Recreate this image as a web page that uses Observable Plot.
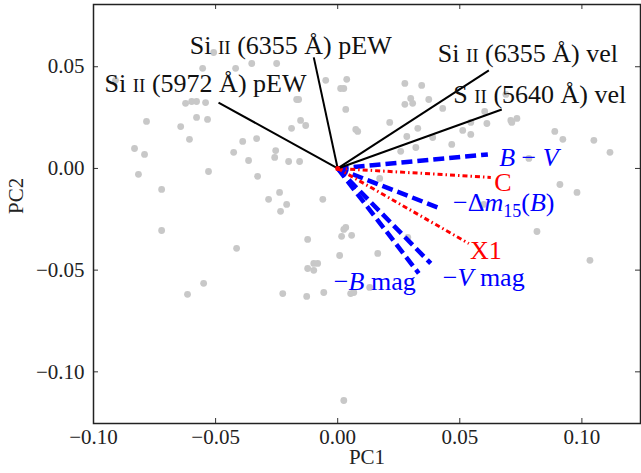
<!DOCTYPE html>
<html><head><meta charset="utf-8">
<script src="https://cdn.jsdelivr.net/npm/d3@7"></script>
<script src="https://cdn.jsdelivr.net/npm/@observablehq/plot@0.6"></script>
<style>body{margin:0;background:#fff} svg{display:block}</style>
</head><body><div id="chart"></div>
<script>
// Scores (gray points)
const pc1 = [-0.0508,-0.0553,-0.0418,-0.0352,-0.0250,-0.0910,-0.0623,-0.0598,-0.0578,-0.0541,-0.0783,-0.0643,-0.0578,-0.0533,-0.0607,-0.0832,-0.0791,-0.0389,-0.0332,-0.0426,-0.0365,-0.0254,-0.0258,-0.0816,-0.0529,-0.0328,-0.0721,-0.0283,-0.0238,-0.0209,-0.0234,-0.0721,-0.0414,-0.0549,-0.0615,
-0.0049,0.0012,0.0025,0.0037,-0.0168,-0.0160,0.0033,-0.0152,-0.0131,-0.0189,0.0074,0.0082,-0.0201,-0.0156,0.0172,-0.0061,0.0275,0.0344,0.0275,0.0299,0.0307,0.0373,0.0430,0.0213,0.0328,0.0389,0.0283,0.0258,0.0320,0.0467,
0.0689,0.0602,0.0611,0.0545,0.0512,0.0545,0.0709,0.0734,0.0713,0.0889,0.0922,0.1049,0.1115,0.0783,0.0910,0.0980,0.0598,0.0816,0.1033,
-0.0123,0.0025,0.0033,0.0016,0.0057,0.0008,0.0164,0.0287,-0.0123,-0.0098,-0.0098,-0.0082,-0.0225,-0.0127,-0.0057,0.0053,0.0066,0.0131,0.0025];
const pc2 = [0.0570,0.0492,0.0492,0.0516,0.0516,0.0433,0.0320,0.0329,0.0329,0.0324,0.0231,0.0206,0.0251,0.0241,0.0143,0.0098,0.0069,0.0133,0.0147,0.0079,0.0039,0.0088,0.0054,-0.0029,-0.0015,-0.0039,-0.0103,-0.0152,-0.0118,-0.0177,-0.0211,-0.0305,-0.0393,-0.0565,-0.0619,
0.0433,0.0393,0.0393,0.0438,0.0339,0.0339,0.0290,0.0236,0.0211,0.0197,0.0192,0.0182,0.0034,0.0034,-0.0049,-0.0152,0.0418,0.0408,0.0315,0.0344,0.0320,0.0339,0.0295,0.0226,0.0197,0.0152,0.0157,0.0084,0.0103,0.0118,
0.0364,0.0280,0.0221,0.0226,0.0187,0.0167,0.0236,0.0246,0.0226,0.0182,0.0143,0.0138,0.0079,0.0049,-0.0079,-0.0118,-0.0177,-0.0310,-0.0452,
-0.0349,-0.0300,-0.0290,-0.0334,-0.0329,-0.0428,-0.0418,-0.0339,-0.0492,-0.0501,-0.0467,-0.0467,-0.0615,-0.0629,-0.0610,-0.0615,-0.0610,-0.0585,-0.1141];

// Loadings (vectors)
const vecNames = ["Si II (6355 Å) pEW","Si II (5972 Å) pEW","Si II (6355 Å) vel","S II (5640 Å) vel","B − V","C","−Δm15(B)","X1","−V mag","−B mag"];
const vecX = [-0.0098,-0.0488,0.0619,0.0672,0.0615,0.0627,0.0410,0.0537,0.0381,0.0332];
const vecY = [0.0546,0.0324,0.0482,0.0290,0.0069,-0.0044,-0.0192,-0.0369,-0.0467,-0.0516];
const vecKind = ["spec","spec","spec","spec","phot","salt","phot","salt","phot","phot"];

const xTicks = [-0.10,-0.05,0.00,0.05,0.10];
const yTicks = [0.05,0.00,-0.05,-0.10];

// label offsets (pixels) — styling only
const labelDx = [-23,-13,39,38,41,12,66,17,53,-44];
const labelDy = [-10,-17,-15,-13,5,7,-3,9,16,10];

const points = pc1.map((x,i)=>({x, y: pc2[i]}));
const vecs = vecNames.map((name,i)=>({name, x: vecX[i], y: vecY[i], kind: vecKind[i], dx: labelDx[i], dy: labelDy[i]}));

const fmt = d => (d < 0 ? "\u2212" : "") + Math.abs(d).toFixed(2);
const kindColor = {spec:"#111111", phot:"#0000ff", salt:"#ff0000"};

const labelMarks = vecs.map(v => Plot.text([v], {x:"x", y:"y", text:"name", dx:v.dx, dy:v.dy, fill: kindColor[v.kind], fontSize:26, lineHeight:0.8, className:"veclabel"}));

const chart = Plot.plot({
  width: 641, height: 473,
  marginTop: 4, marginBottom: 50, marginLeft: 93, marginRight: 1,
  style: {fontFamily: "'Liberation Serif', 'DejaVu Serif', serif", fontSize: "21px", background: "#fff", color: "#222"},
  x: {domain: [-0.10, 0.124]},
  y: {domain: [-0.1254, 0.0806]},
  marks: [
    Plot.dot(points, {x:"x", y:"y", r:3.4, fill:"#c8c8c8", stroke:null}),
    Plot.link(vecs.filter(d=>d.kind==="phot"), {x1:()=>0, y1:()=>0, x2:"x", y2:"y", stroke:"#0000ff", strokeWidth:4.5, strokeDasharray:"11,5"}),
    Plot.link(vecs.filter(d=>d.kind==="salt"), {x1:()=>0, y1:()=>0, x2:"x", y2:"y", stroke:"#ff0000", strokeWidth:3, strokeDasharray:"5,3,1.5,3"}),
    Plot.link(vecs.filter(d=>d.kind==="spec"), {x1:()=>0, y1:()=>0, x2:"x", y2:"y", stroke:"#000", strokeWidth:2}),
    Plot.dot([{x:0,y:0}], {x:"x", y:"y", r:2.5, fill:"#ff0000"}),
    ...labelMarks,
    Plot.axisX({ticks: xTicks, tickFormat: fmt, tickSize: 0, tickPadding: 6, label: null}),
    Plot.axisY({ticks: yTicks, tickFormat: fmt, tickSize: 0, tickPadding: 9, label: null}),
    Plot.ruleX(xTicks, {x: d=>d, insetTop: 414, stroke:"#333"}),
    Plot.ruleX(xTicks, {x: d=>d, insetBottom: 414, stroke:"#333"}),
    Plot.ruleY(yTicks, {y: d=>d, insetRight: 542, stroke:"#333"}),
    Plot.ruleY(yTicks, {y: d=>d, insetLeft: 542, stroke:"#333"}),
    Plot.frame({stroke:"#222", strokeWidth:1.5}),
    Plot.text(["PC1"], {frameAnchor:"bottom", dy:40, fontSize:21, fill:"#222"}),
    Plot.text(["PC2"], {frameAnchor:"left", dx:-77, rotate:-90, fontSize:21, fill:"#222"})
  ]
});

// rich formatting of labels (small caps, italics, subscript)
d3.select(chart).selectAll(".veclabel text").each(function(){
  const t = this.textContent;
  let h = null;
  if (t.includes(" II ")) {
    const parts = t.split(" II ");
    h = parts[0] + ' <tspan font-size="19">II</tspan> ' + parts[1];
  } else if (t === "B − V") {
    h = '<tspan font-style="italic">B</tspan> − <tspan font-style="italic">V</tspan>';
  } else if (t === "−Δm15(B)") {
    h = '−Δ<tspan font-style="italic">m</tspan><tspan dy="6" font-size="18">15</tspan><tspan dy="-6">(</tspan><tspan font-style="italic">B</tspan>)';
  } else if (t === "−V mag") {
    h = '−<tspan font-style="italic">V</tspan> mag';
  } else if (t === "−B mag") {
    h = '−<tspan font-style="italic">B</tspan> mag';
  }
  if (h !== null) this.innerHTML = h;
});

document.getElementById("chart").appendChild(chart);
</script>
</body></html>
